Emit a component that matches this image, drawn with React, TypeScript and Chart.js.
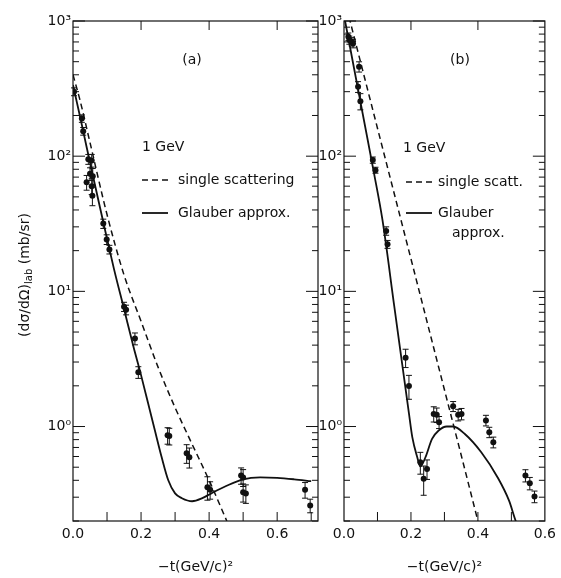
import React, { useEffect, useRef } from 'react';
import { Chart, registerables } from 'chart.js';

Chart.register(...registerables);

const FONT_FAMILY = "'DejaVu Sans', 'Liberation Sans', sans-serif";
const INK = '#111111';

// ---------------- panel (a) ----------------
const aPointsX = [0.003, 0.026, 0.030, 0.040, 0.045, 0.050, 0.055, 0.055, 0.057, 0.058, 0.089, 0.099, 0.107, 0.150, 0.156, 0.182, 0.192, 0.278, 0.283, 0.334, 0.342, 0.395, 0.403, 0.494, 0.500, 0.500, 0.508, 0.682, 0.697];
const aPointsY = [300, 190, 153, 64, 95, 74, 93, 60, 51, 71, 31.7, 24.2, 20.4, 7.7, 7.3, 4.47, 2.52, 0.86, 0.85, 0.634, 0.593, 0.355, 0.34, 0.434, 0.42, 0.326, 0.32, 0.34, 0.26];
const aPointsErr = [20, 12, 10, 8, 8, 8, 10, 8, 8, 10, 2.5, 2, 1.5, 0.6, 0.6, 0.45, 0.25, 0.12, 0.12, 0.1, 0.1, 0.07, 0.05, 0.06, 0.06, 0.05, 0.05, 0.045, 0.03];
const aSingleX = [0, 0.02, 0.05, 0.1, 0.15, 0.2, 0.25, 0.3, 0.35, 0.4, 0.452];
const aSingleY = [400, 263, 126, 37, 13.2, 6.0, 2.75, 1.38, 0.74, 0.40, 0.2];
const aGlauberX = [0, 0.02, 0.04, 0.06, 0.08, 0.1, 0.12, 0.15, 0.18, 0.2, 0.22, 0.24, 0.26, 0.28, 0.3, 0.32, 0.35, 0.38, 0.41, 0.45, 0.5, 0.55, 0.6, 0.65, 0.7];
const aGlauberY = [336, 200, 117, 69, 41, 24.5, 14.8, 7.4, 3.7, 2.4, 1.51, 0.95, 0.6, 0.4, 0.32, 0.295, 0.28, 0.295, 0.324, 0.363, 0.407, 0.42, 0.417, 0.407, 0.394];
const aXTicks = [0, 0.2, 0.4, 0.6];
const aXTickLabels = ['0.0', '0.2', '0.4', '0.6'];
const aXBottomMarks = [0.1, 0.2, 0.3, 0.4, 0.5, 0.6, 0.7];
const aXTopMarks = [0.2, 0.4, 0.6];

// ---------------- panel (b) ----------------
const bPointsX = [0.013, 0.016, 0.023, 0.027, 0.045, 0.042, 0.049, 0.086, 0.094, 0.126, 0.130, 0.184, 0.194, 0.228, 0.238, 0.248, 0.268, 0.277, 0.284, 0.326, 0.341, 0.351, 0.424, 0.434, 0.446, 0.542, 0.555, 0.569];
const bPointsY = [765, 723, 703, 683, 459, 326, 255, 93.6, 78.8, 28, 22.3, 3.23, 1.99, 0.544, 0.41, 0.486, 1.24, 1.22, 1.076, 1.41, 1.22, 1.24, 1.11, 0.907, 0.765, 0.434, 0.38, 0.303];
const bPointsErr = [50, 50, 50, 50, 40, 30, 35, 5, 4, 2, 1.5, 0.5, 0.4, 0.1, 0.1, 0.08, 0.16, 0.15, 0.11, 0.12, 0.12, 0.12, 0.1, 0.08, 0.07, 0.045, 0.04, 0.03];
const bSingleX = [0, 0.05, 0.1, 0.15, 0.2, 0.25, 0.3, 0.35, 0.4];
const bSingleY = [1493, 491, 161, 52.9, 17.4, 5.7, 1.87, 0.615, 0.2];
const bGlauberX = [0, 0.03, 0.06, 0.09, 0.115, 0.15, 0.194, 0.204, 0.219, 0.228, 0.243, 0.263, 0.282, 0.307, 0.326, 0.361, 0.41, 0.459, 0.493, 0.513, 0.525];
const bGlauberY = [1100, 447, 182, 74, 33.6, 7.8, 1.25, 0.834, 0.59, 0.506, 0.59, 0.81, 0.93, 1.0, 1.0, 0.88, 0.645, 0.42, 0.283, 0.2, 0.17];
const bXTicks = [0, 0.2, 0.4, 0.6];
const bXTickLabels = ['0.0', '0.2', '0.4', '0.6'];
const bXBottomMarks = [0.1, 0.2, 0.3, 0.4, 0.5];
const bXTopMarks = [0.2, 0.4];

// ---------------- shared y axis ----------------
const yMin = 0.2;
const yMax = 1000;
const yTickValues = [1, 10, 100, 1000];
const yTickLabels = ['10⁰', '10¹', '10²', '10³'];
const yMinorMarks: number[] = [];
[0.1, 1, 10, 100].forEach((d) => {
  for (let m = 2; m <= 9; m++) {
    const v = d * m;
    if (v >= yMin && v < yMax) yMinorMarks.push(v);
  }
});

const toXY = (xs: number[], ys: number[]) => xs.map((x, i) => ({ x, y: ys[i] }));

const decorPlugin = {
  id: 'decor',
  afterDatasetsDraw(chart: any, _args: any, opts: any) {
    const { ctx, chartArea } = chart;
    const { left, right, top, bottom } = chartArea;
    const xs = chart.scales.x;
    const ys = chart.scales.y;
    const line = (x1: number, y1: number, x2: number, y2: number) => {
      ctx.beginPath();
      ctx.moveTo(x1, y1);
      ctx.lineTo(x2, y2);
      ctx.stroke();
    };
    ctx.save();
    ctx.strokeStyle = INK;
    ctx.fillStyle = INK;
    ctx.lineWidth = 1.2;
    ctx.setLineDash([]);
    ctx.strokeRect(left, top, right - left, bottom - top);
    ctx.lineWidth = 1;
    (opts.xBottom || []).forEach((v: number) => {
      const px = xs.getPixelForValue(v);
      line(px, bottom, px, bottom - 9);
    });
    (opts.xTop || []).forEach((v: number) => {
      const px = xs.getPixelForValue(v);
      line(px, top, px, top + 9);
    });
    yTickValues.forEach((v) => {
      const py = ys.getPixelForValue(v);
      line(left, py, left + 12, py);
      line(right, py, right - 12, py);
    });
    yMinorMarks.forEach((v) => {
      const py = ys.getPixelForValue(v);
      line(left, py, left + 6, py);
      line(right, py, right - 6, py);
    });

    // error bars
    ctx.lineWidth = 1;
    chart.data.datasets.forEach((ds: any, i: number) => {
      if (!ds.errorBars) return;
      const meta = chart.getDatasetMeta(i);
      meta.data.forEach((el: any, j: number) => {
        const v = ds.data[j].y;
        const e = ds.errorBars[j];
        const yHi = ys.getPixelForValue(v + e);
        const yLo = ys.getPixelForValue(v - e);
        line(el.x, yHi, el.x, yLo);
        line(el.x - 3, yHi, el.x + 3, yHi);
        line(el.x - 3, yLo, el.x + 3, yLo);
      });
    });

    // legend samples
    (opts.samples || []).forEach((s: any) => {
      ctx.lineWidth = s.dash ? 1.5 : 1.8;
      ctx.setLineDash(s.dash ? [6, 4] : []);
      line(s.x1, s.y, s.x2, s.y);
    });
    ctx.setLineDash([]);

    // texts
    ctx.textBaseline = 'middle';
    (opts.texts || []).forEach((t: any) => {
      ctx.font = `${t.size || 14}px ${FONT_FAMILY}`;
      ctx.textAlign = t.align || 'left';
      ctx.fillText(t.text, t.x, t.y);
    });

    // y axis title with subscript
    if (opts.yTitle) {
      const { x: cx, y: cy } = opts.yTitle;
      ctx.save();
      ctx.translate(cx, cy);
      ctx.rotate(-Math.PI / 2);
      const main = `14px ${FONT_FAMILY}`;
      const sub = `10px ${FONT_FAMILY}`;
      const p1 = '(dσ/dΩ)';
      const p2 = 'lab';
      const p3 = ' (mb/sr)';
      ctx.font = main;
      const w1 = ctx.measureText(p1).width;
      const w3 = ctx.measureText(p3).width;
      ctx.font = sub;
      const w2 = ctx.measureText(p2).width;
      let x = -(w1 + w2 + w3) / 2;
      ctx.textAlign = 'left';
      ctx.textBaseline = 'middle';
      ctx.font = main;
      ctx.fillText(p1, x, 0);
      x += w1;
      ctx.font = sub;
      ctx.fillText(p2, x, 4);
      x += w2;
      ctx.font = main;
      ctx.fillText(p3, x, 0);
      ctx.restore();
    }
    ctx.restore();
  },
};

type PanelSpec = {
  xMax: number;
  yAxisWidth: number;
  padRight: number;
  pointsX: number[];
  pointsY: number[];
  pointsErr: number[];
  singleX: number[];
  singleY: number[];
  glauberX: number[];
  glauberY: number[];
  xTicks: number[];
  xTickLabels: string[];
  xBottom: number[];
  xTop: number[];
  decor: any;
};

function makeConfig(p: PanelSpec): any {
  const font = { family: FONT_FAMILY, size: 14 };
  return {
    type: 'scatter',
    data: {
      datasets: [
        {
          label: 'single scattering',
          data: toXY(p.singleX, p.singleY),
          showLine: true,
          borderColor: INK,
          borderWidth: 1.5,
          borderDash: [6, 4],
          pointRadius: 0,
          cubicInterpolationMode: 'monotone',
          fill: false,
        },
        {
          label: 'Glauber approx.',
          data: toXY(p.glauberX, p.glauberY),
          showLine: true,
          borderColor: INK,
          borderWidth: 1.8,
          pointRadius: 0,
          cubicInterpolationMode: 'monotone',
          fill: false,
        },
        {
          label: 'data',
          data: toXY(p.pointsX, p.pointsY),
          errorBars: p.pointsErr,
          showLine: false,
          pointRadius: 3,
          pointBackgroundColor: INK,
          pointBorderWidth: 0,
        },
      ],
    },
    options: {
      responsive: false,
      animation: false,
      events: [],
      layout: { padding: { left: 0, right: p.padRight, top: 21, bottom: 0 } },
      plugins: {
        legend: { display: false },
        tooltip: { enabled: false },
        decor: { ...p.decor, xBottom: p.xBottom, xTop: p.xTop },
      },
      scales: {
        x: {
          type: 'linear',
          min: 0,
          max: p.xMax,
          afterBuildTicks: (s: any) => {
            s.ticks = p.xTicks.map((v) => ({ value: v }));
          },
          afterFit: (s: any) => {
            s.height = 57;
          },
          grid: { display: false, drawTicks: false },
          border: { display: false },
          ticks: {
            autoSkip: false,
            maxRotation: 0,
            padding: 5,
            color: INK,
            font,
            callback: (_v: any, i: number) => p.xTickLabels[i],
          },
          title: {
            display: true,
            text: '−t(GeV/c)²',
            color: INK,
            font,
            padding: { top: 0, bottom: 2 },
          },
        },
        y: {
          type: 'logarithmic',
          min: yMin,
          max: yMax,
          afterBuildTicks: (s: any) => {
            s.ticks = yTickValues.map((v) => ({ value: v }));
          },
          afterFit: (s: any) => {
            s.width = p.yAxisWidth;
          },
          grid: { display: false, drawTicks: false },
          border: { display: false },
          ticks: {
            autoSkip: false,
            padding: 2,
            color: INK,
            font,
            callback: (_v: any, i: number) => yTickLabels[i],
          },
        },
      },
    },
    plugins: [decorPlugin],
  };
}

const panelA: PanelSpec = {
  xMax: 0.72,
  yAxisWidth: 73,
  padRight: 12,
  pointsX: aPointsX,
  pointsY: aPointsY,
  pointsErr: aPointsErr,
  singleX: aSingleX,
  singleY: aSingleY,
  glauberX: aGlauberX,
  glauberY: aGlauberY,
  xTicks: aXTicks,
  xTickLabels: aXTickLabels,
  xBottom: aXBottomMarks,
  xTop: aXTopMarks,
  decor: {
    yTitle: { x: 25, y: 275 },
    texts: [
      { text: '(a)', x: 192, y: 60, align: 'center' },
      { text: '1 GeV', x: 142, y: 147 },
      { text: 'single scattering', x: 178, y: 180 },
      { text: 'Glauber approx.', x: 178, y: 213 },
    ],
    samples: [
      { x1: 142, x2: 168, y: 180, dash: true },
      { x1: 142, x2: 168, y: 213, dash: false },
    ],
  },
};

const panelB: PanelSpec = {
  xMax: 0.6,
  yAxisWidth: 54,
  padRight: 13,
  pointsX: bPointsX,
  pointsY: bPointsY,
  pointsErr: bPointsErr,
  singleX: bSingleX,
  singleY: bSingleY,
  glauberX: bGlauberX,
  glauberY: bGlauberY,
  xTicks: bXTicks,
  xTickLabels: bXTickLabels,
  xBottom: bXBottomMarks,
  xTop: bXTopMarks,
  decor: {
    texts: [
      { text: '(b)', x: 170, y: 60, align: 'center' },
      { text: '1 GeV', x: 113, y: 148 },
      { text: 'single scatt.', x: 148, y: 182 },
      { text: 'Glauber', x: 148, y: 213 },
      { text: 'approx.', x: 162, y: 233 },
    ],
    samples: [
      { x1: 116, x2: 143, y: 182, dash: true },
      { x1: 116, x2: 142, y: 213, dash: false },
    ],
  },
};

function Panel({ spec, left, width }: { spec: PanelSpec; left: number; width: number }) {
  const ref = useRef<HTMLCanvasElement | null>(null);
  useEffect(() => {
    if (!ref.current) return;
    const chart = new Chart(ref.current, makeConfig(spec));
    return () => chart.destroy();
  }, [spec]);
  return (
    <canvas
      ref={ref}
      width={width}
      height={578}
      style={{ position: 'absolute', left, top: 0, width, height: 578 }}
    />
  );
}

export default function App() {
  return (
    <div
      style={{
        position: 'absolute',
        left: 0,
        top: 0,
        width: 561,
        height: 578,
        background: '#ffffff',
        overflow: 'hidden',
      }}
    >
      <Panel spec={panelA} left={0} width={330} />
      <Panel spec={panelB} left={290} width={271} />
    </div>
  );
}
